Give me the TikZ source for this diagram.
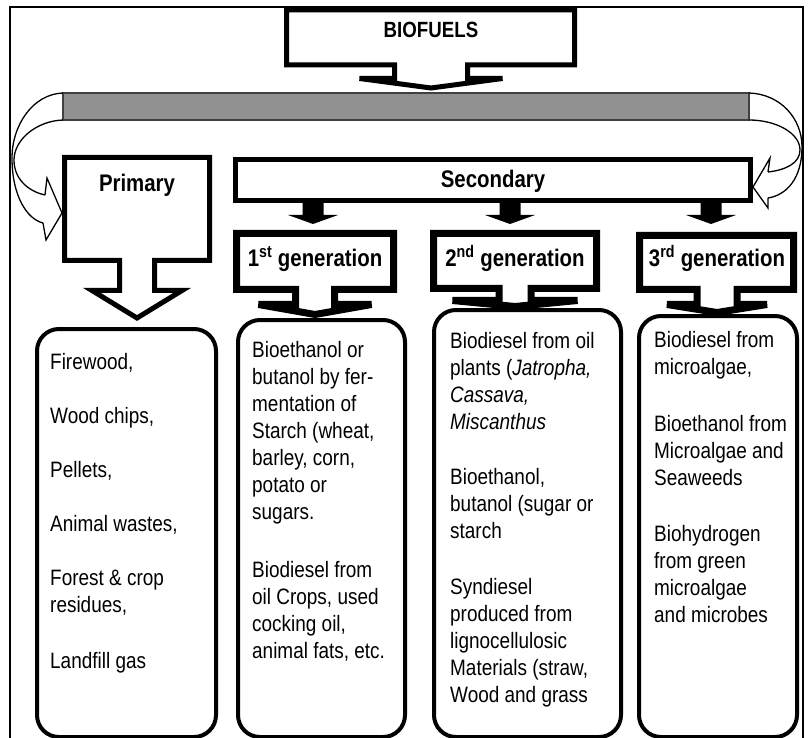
\documentclass[tikz,border=0pt]{standalone}
\usepackage{fontspec}
\setmainfont{Liberation Sans}[FakeStretch=0.85]
\begin{document}
\begin{tikzpicture}[x=1pt,y=-1pt,
  frameline/.style={line width=2.4pt},
  calloutbox/.style={draw,fill=white,line width=5pt,line join=miter},
  genbox/.style={draw,fill=white,line width=7pt,line join=miter},
  listbox/.style={draw,line width=4pt,rounded corners=22pt},
  bar/.style={draw=black!75,fill=black!43,line width=1.5pt},
  curvearrow/.style={line width=1.3pt,line join=miter},
  downarrow/.style={fill=black},
  heading/.style={font=\fontsize{24}{28}\selectfont\bfseries,inner sep=0pt,anchor=base},
  body/.style={font=\fontsize{22.3}{27}\selectfont,anchor=base west,inner sep=0pt},
]
\useasboundingbox (0,0) rectangle (809,738);

% outer frame (open at the bottom)
\draw[frameline] (10,738) -- (10,7) -- (803,7) -- (803,738);

% distribution bar
\draw[bar] (63,93) rectangle (749,120);

% curved arrow to the left (towards Primary)
\draw[curvearrow] (63,93) .. controls (33,94) and (12,125) .. (12,158)
            .. controls (12,196) and (27,219) .. (43,223);
\draw[curvearrow] (63,120) .. controls (36,121) and (14,140) .. (14,160)
            .. controls (14,178) and (27,191) .. (45,195);
\draw[curvearrow] (45,195) -- (47,178) -- (62,213) -- (46,240) -- (43,223);

% curved arrow to the right (towards Secondary)
\draw[curvearrow] (749,93) .. controls (780,94) and (802,118) .. (802,147)
            .. controls (802,178) and (787,195) .. (768,198);
\draw[curvearrow] (749,120) .. controls (776,120) and (800,133) .. (800,150)
            .. controls (800,163) and (786,170) .. (768,172);
\draw[curvearrow] (768,172) -- (770,158) -- (753,187) -- (768,208) -- (768,198);

% BIOFUELS callout
\draw[calloutbox] (286.5,10) -- (574.5,10) -- (574.5,65) -- (467.5,65) -- (467.5,78.5)
  -- (502.5,78.5) -- (431,88) -- (359.5,78.5) -- (394.5,78.5) -- (394.5,65)
  -- (286.5,65) -- cycle;
\node[heading,font=\fontsize{22}{26}\selectfont\bfseries] (bio) at (431,38) {BIOFUELS};

% Primary callout
\draw[calloutbox] (64.5,157.5) -- (209.5,157.5) -- (209.5,260.5) -- (154.5,260.5)
  -- (154.5,290.5) -- (182,290.5) -- (137,318) -- (92,290.5) -- (119.5,290.5)
  -- (119.5,260.5) -- (64.5,260.5) -- cycle;
\node[heading] (prim) at (137,192) {Primary};

% Secondary box and its three arrows
\draw[calloutbox] (235.5,159.5) rectangle (750.5,200.5);
\node[heading] (sec) at (493,188) {Secondary};
\foreach \cx in {313,510,711}
  \fill[downarrow] (\cx-10.5,202) -- (\cx+10.5,202) -- (\cx+10.5,215) -- (\cx+25,215)
    -- (\cx,224) -- (\cx-25,215) -- (\cx-10.5,215) -- cycle;

% generation callouts
\draw[genbox] (236.5,233.5) -- (393.5,233.5) -- (393.5,289.5) -- (334.5,289.5)
  -- (334.5,304.5) -- (371.5,304.5) -- (315,314.5) -- (258.5,304.5) -- (295.5,304.5)
  -- (295.5,289.5) -- (236.5,289.5) -- cycle;
\node[heading] (g1) at (315,267) {1\textsuperscript{st} generation};

\draw[genbox] (433.5,233.5) -- (596.5,233.5) -- (596.5,288.5) -- (531,288.5)
  -- (531,300.5) -- (577.5,300.5) -- (515,306.5) -- (452.5,300.5) -- (499,300.5)
  -- (499,288.5) -- (433.5,288.5) -- cycle;
\node[heading] (g2) at (515,267) {2\textsuperscript{nd} generation};

\draw[genbox] (639.5,235.5) -- (793.5,235.5) -- (793.5,289.5) -- (737,289.5)
  -- (737,304.5) -- (767,304.5) -- (717,312.5) -- (667,304.5) -- (697,304.5)
  -- (697,289.5) -- (639.5,289.5) -- cycle;
\node[heading] (g3) at (717,267) {3\textsuperscript{rd} generation};

% list boxes
\draw[listbox] (37,737) -- (37,329) -- (216,329) -- (216,737) -- cycle;
\draw[listbox] (238,737) -- (238,320) -- (405,320) -- (405,737) -- cycle;
\draw[listbox] (434,737) -- (434,310) -- (621,310) -- (621,737) -- cycle;
\draw[listbox] (639,737) -- (639,316) -- (797,316) -- (797,737) -- cycle;

% list texts
\foreach \by/\bt [count=\i] in {369/{Firewood,}, 423/{Wood chips,}, 477/{Pellets,},
    531/{Animal wastes,}, 585/{Forest \& crop}, 612/{residues,}, 668/{Landfill gas}}
  \node[body] (pa\i) at (50,\by) {\bt};

\foreach \by/\bt [count=\i] in {357/{Bioethanol or}, 384/{butanol by fer-},
    411/{mentation of}, 438/{Starch (wheat,}, 465/{barley, corn,}, 492/{potato or},
    519/{sugars.}, 577/{Biodiesel from}, 604/{oil Crops, used}, 631/{cocking oil,},
    658/{animal fats, etc.}}
  \node[body] (pb\i) at (252,\by) {\bt};

\foreach \by/\bt [count=\i] in {348/{Biodiesel from oil}, 375/{plants (\textit{Jatropha,}},
    402/{\textit{Cassava,}}, 429/{\textit{Miscanthus}}, 484/{Bioethanol,},
    511/{butanol (sugar or}, 538/{starch}, 594/{Syndiesel}, 621/{produced from},
    648/{lignocellulosic}, 675/{Materials (straw,}, 702/{Wood and grass}}
  \node[body] (pc\i) at (450,\by) {\bt};

\foreach \by/\bt [count=\i] in {347/{Biodiesel from}, 374/{microalgae,},
    431/{Bioethanol from}, 458/{Microalgae and}, 485/{Seaweeds},
    541/{Biohydrogen}, 568/{from green}, 595/{microalgae}, 622/{and microbes}}
  \node[body] (pd\i) at (654,\by) {\bt};
\end{tikzpicture}
\end{document}
